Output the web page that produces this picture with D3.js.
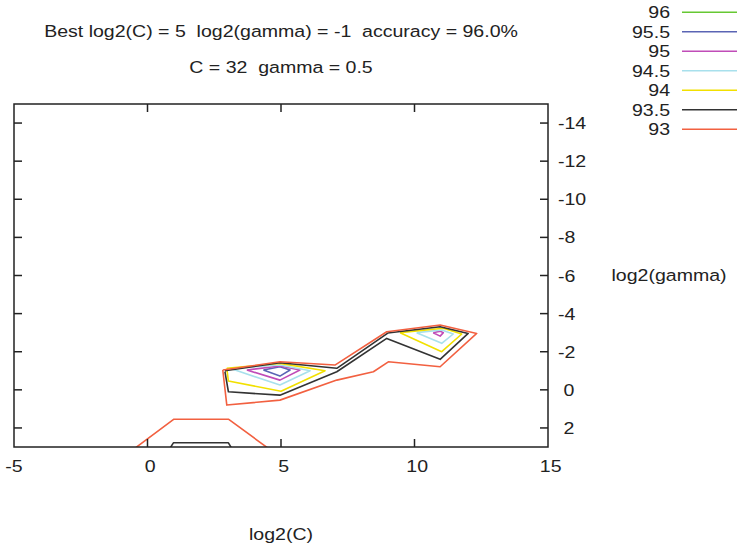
<!DOCTYPE html>
<html>
<head>
<meta charset="utf-8">
<script src="https://cdn.jsdelivr.net/npm/d3@7"></script>
<style>
  html, body { margin: 0; padding: 0; background: #fff; }
  svg text { font-family: "Liberation Sans", Arial, sans-serif; font-size: 17px; fill: #222; white-space: pre; }
</style>
</head>
<body>
<div id="chart"></div>
<script>
// Grid search result (log2(C) vs log2(gamma)), contour levels of CV accuracy
const titleLines = ['Best log2(C) = 5  log2(gamma) = -1  accuracy = 96.0%', 'C = 32  gamma = 0.5'];
const xTicks = [-5, 0, 5, 10, 15];
const yTicks = [-14, -12, -10, -8, -6, -4, -2, 0, 2];
const levels = ['96', '95.5', '95', '94.5', '94', '93.5', '93'];

// contour lines per level, points are [log2(C), log2(gamma)]
const contour96 = [];
const contour955 = [
    [[4.34, -1.04], [4.96, -0.72], [5.34, -1.04], [4.96, -1.21], [4.34, -1.04]]
];
const contour95 = [
    [[3.72, -1.04], [4.96, -0.51], [5.71, -1.04], [4.96, -1.25], [3.72, -1.04]],
    [[10.7, -3.0], [10.96, -2.82], [11.08, -3.0], [10.96, -3.08], [10.7, -3.0]]
];
const contour945 = [
    [[3.09, -1.13], [4.96, -0.25], [6.09, -1.0], [4.96, -1.3], [3.09, -1.13]],
    [[10.08, -3.0], [11.02, -2.44], [11.45, -2.93], [11.02, -3.14], [10.08, -3.0]]
];
const contour94 = [
    [[2.97, -1.13], [3.03, -0.46], [5.0, 0.07], [6.65, -1.0], [4.96, -1.39], [2.97, -1.13]],
    [[9.46, -3.0], [11.02, -2.0], [11.77, -2.93], [11.08, -3.23], [9.46, -3.0]]
];
const contour935 = [
    [[2.9, -0.95], [3.03, 0.1], [4.96, 0.28], [7.09, -0.95], [8.96, -2.7], [10.96, -1.6],
     [12.01, -2.96], [10.96, -3.31], [9.0, -2.98], [7.09, -1.13], [4.96, -1.42], [2.9, -1.0]],
    [[0.78, 3.2], [0.97, 2.78], [3.03, 2.78], [3.21, 3.2]]
];
const contour93 = [
    [[2.82, -1.04], [2.97, 0.8], [4.96, 0.54], [7.09, -0.51], [8.46, -0.95], [9.02, -1.47],
     [10.96, -1.21], [12.33, -2.96], [10.96, -3.4], [8.96, -3.05], [7.02, -1.3], [4.96, -1.47], [2.82, -1.04]],
    [[-0.6, 3.2], [0.99, 1.54], [3.03, 1.54], [4.65, 3.2]]
];
const contours = [contour96, contour955, contour95, contour945, contour94, contour935, contour93];

// styles
const palette = ['#66c832', '#5a64b4', '#c04cb8', '#a8e0ec', '#f2e000', '#333333', '#f26040'];
const stretch = 1.15; // the png font is a bit wider than Liberation Sans

const width = 742, height = 549;
const svg = d3.select('#chart').append('svg')
    .attr('width', width)
    .attr('height', height);

const x = d3.scaleLinear().domain([-5, 15]).range([14, 548]);
const y = d3.scaleLinear().domain([-15, 3]).range([104, 447]);
const fmt = v => (v < 0 ? String(v) : ' ' + v);

// text placed at (px, py), widened horizontally
function label(sel, px, py, anchor) {
    return sel.attr('transform', `translate(${px},${py}) scale(${stretch},1)`)
        .attr('text-anchor', anchor || 'start');
}

svg.append('clipPath').attr('id', 'plot-clip')
    .append('rect')
    .attr('x', x(-5)).attr('y', y(-15))
    .attr('width', x(15) - x(-5)).attr('height', y(3) - y(-15));

// title labels
titleLines.forEach((t, i) => {
    label(svg.append('text'), x(5), 37 + i * 36, 'middle').text(t);
});

// contour lines
const line = d3.line().x(d => x(d[0])).y(d => y(d[1]));
const lines = svg.append('g').attr('clip-path', 'url(#plot-clip)');
contours.forEach((set, i) => {
    lines.selectAll(null)
        .data(set)
        .join('path')
        .attr('d', line)
        .attr('fill', 'none')
        .attr('stroke', palette[i])
        .attr('stroke-width', 1.6)
        .attr('stroke-linejoin', 'round');
});

// frame and ticks
const axes = svg.append('g').attr('stroke', '#222').attr('stroke-width', 1.5);
xTicks.slice(1, -1).forEach(t => {
    axes.append('line').attr('x1', x(t)).attr('x2', x(t)).attr('y1', y(3)).attr('y2', y(3) - 8);
    axes.append('line').attr('x1', x(t)).attr('x2', x(t)).attr('y1', y(-15)).attr('y2', y(-15) + 8);
});
yTicks.forEach(t => {
    axes.append('line').attr('x1', x(-5)).attr('x2', x(-5) + 8).attr('y1', y(t)).attr('y2', y(t));
    axes.append('line').attr('x1', x(15)).attr('x2', x(15) - 8).attr('y1', y(t)).attr('y2', y(t));
});
axes.append('rect')
    .attr('x', x(-5)).attr('y', y(-15))
    .attr('width', x(15) - x(-5)).attr('height', y(3) - y(-15))
    .attr('fill', 'none');

// tick labels
xTicks.forEach(t => {
    label(svg.append('text'), x(t), 472, 'middle').text(fmt(t));
});
yTicks.forEach(t => {
    label(svg.append('text'), x(15) + 10, y(t) + 6).text(fmt(t));
});

// axis titles
label(svg.append('text'), x(5), 540, 'middle').text('log2(C)');
label(svg.append('text'), 669, 281, 'middle').text('log2(gamma)');

// key
levels.forEach((lv, i) => {
    const yy = 12.3 + i * 19.5;
    label(svg.append('text'), 670, yy + 6, 'end').text(lv);
    svg.append('line')
        .attr('x1', 682).attr('x2', 737)
        .attr('y1', yy).attr('y2', yy)
        .attr('stroke', palette[i])
        .attr('stroke-width', 1.6);
});
</script>
</body>
</html>
